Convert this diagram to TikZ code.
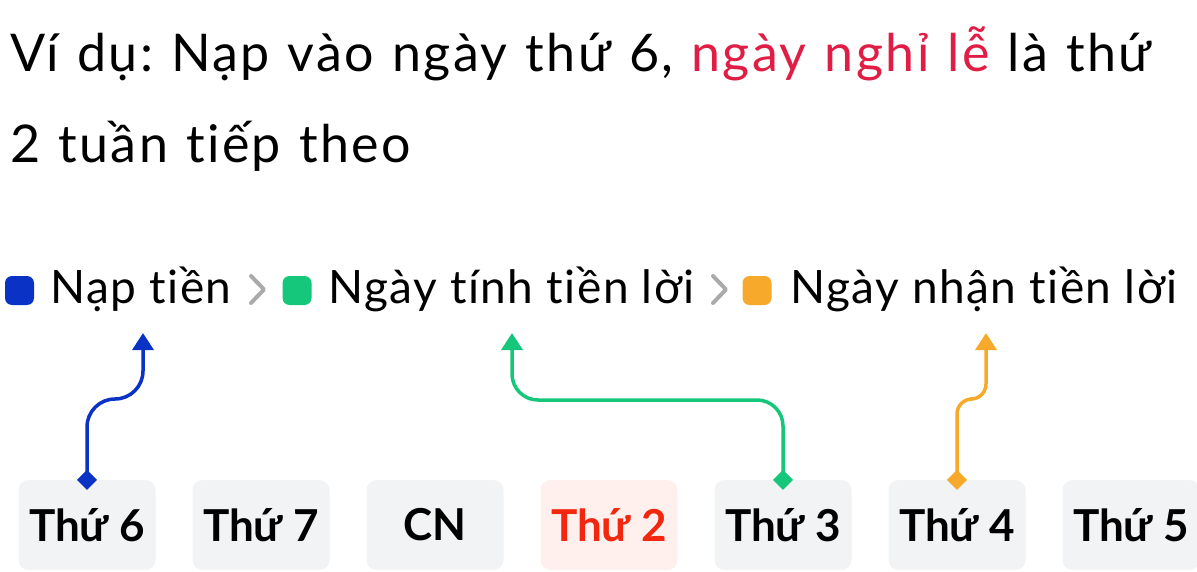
\documentclass[tikz,border=0pt]{standalone}
\usepackage{fontspec}
\setmainfont{Lato}[Ligatures=NoCommon]
\newfontfamily\titlefont{Lato}[Ligatures=NoCommon,LetterSpace=4.6,WordSpace=1.15]
\usetikzlibrary{arrows.meta,positioning}

\definecolor{napblue}{HTML}{0A33C6}
\definecolor{tinhgreen}{HTML}{14C77A}
\definecolor{nhanorange}{HTML}{F7A92B}
\definecolor{holired}{HTML}{E01E45}
\definecolor{dayred}{HTML}{F2270F}
\definecolor{boxgrey}{HTML}{F2F3F5}
\definecolor{boxpink}{HTML}{FFF0EE}
\definecolor{chevgrey}{HTML}{AAAAAA}

\tikzset{
  daybox/.style={rectangle,rounded corners=10pt,fill=boxgrey,minimum width=137pt,minimum height=90pt,inner sep=0,font=\fontsize{44}{50}\selectfont\bfseries},
  legsq/.style={rectangle,rounded corners=7pt,minimum size=29pt,inner sep=0},
  legtext/.style={anchor=base west,inner sep=0,font=\fontsize{46}{50}\selectfont\addfontfeatures{LetterSpace=3.2}},
  titletext/.style={anchor=base west,inner sep=0,font=\titlefont\fontsize{52}{60}\selectfont},
  chevron/.style={draw=chevgrey,line width=4pt,line cap=round,line join=round},
  link/.style={line width=3.5pt,rounded corners=#1,shorten <=-10pt,
    {Diamond[length=20pt,width=20pt]}-{Triangle[length=17pt,width=21pt]}}
}

\begin{document}
\frenchspacing
\begin{tikzpicture}[x=1pt,y=-1pt]
\useasboundingbox (0,0) rectangle (1197,572);

% title
\node[titletext] (title1) at (10,72) {Ví dụ: Nạp vào ngày thứ 6, \textcolor{holired}{ngày nghỉ lễ} là thứ};
\node[titletext] (title2) at (10,163) {2 tuần tiếp theo};

% legend
\node[legsq,fill=napblue] (sqnap) at (19.5,290.5) {};
\node[legtext] (nap) at (50,303) {Nạp tiền};
\draw[chevron] (251,276) -- (264,289.5) -- (251,303);
\node[legsq,fill=tinhgreen] (sqtinh) at (297,290.5) {};
\node[legtext] (tinh) at (328,303) {Ngày tính tiền lời};
\draw[chevron] (713,276) -- (726,289.5) -- (713,303);
\node[legsq,fill=nhanorange] (sqnhan) at (757,290.5) {};
\node[legtext] (nhan) at (790,303) {Ngày nhận tiền lời};

\coordinate (tonap) at (143,333);
\coordinate (totinh) at (512,333);
\coordinate (tonhan) at (986,333);

% days
\node[daybox] (d6) at (87,525) {Thứ 6};
\node[daybox] (d7) at (261,525) {Thứ 7};
\node[daybox] (dcn) at (435,525) {CN};
\node[daybox,fill=boxpink,text=dayred] (d2) at (609,525) {Thứ 2};
\node[daybox] (d3) at (783,525) {Thứ 3};
\node[daybox] (d4) at (957,525) {Thứ 4};
\node[daybox] (d5) at (1131,525) {Thứ 5};

% links
\draw[link=28pt,napblue] (d6.north) -- (d6.north |- 0,399) -- (tonap |- 0,399) -- (tonap);
\draw[link=26pt,tinhgreen] (d3.north) -- (d3.north |- 0,400) -- (totinh |- 0,400) -- (totinh);
\draw[link=15pt,nhanorange] (d4.north) -- (d4.north |- 0,399) -- (tonhan |- 0,399) -- (tonhan);
\end{tikzpicture}
\end{document}
